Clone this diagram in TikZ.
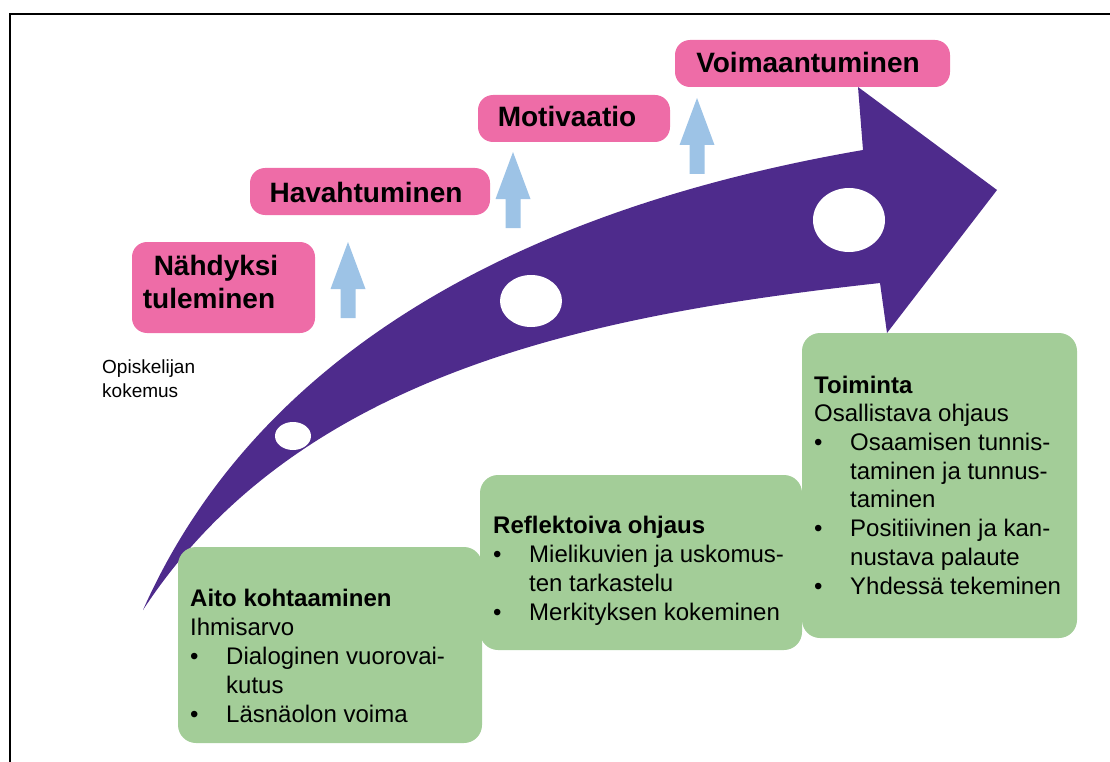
\documentclass[tikz,border=0pt]{standalone}
\usepackage{fontspec}
\setmainfont{Liberation Sans}
\definecolor{pinkc}{HTML}{EE6CA7}
\definecolor{greenc}{HTML}{A3CD98}
\definecolor{bluec}{HTML}{9DC3E6}
\definecolor{purpc}{HTML}{4E2B8C}
\newcommand\gbul{\makebox[36pt][l]{•}}
\newcommand\gind{\hspace*{36pt}}
\tikzset{
  pinkbox/.style={fill=pinkc, draw=none, rounded corners=15pt, inner sep=0pt},
  greenbox/.style={fill=greenc, draw=none, rounded corners=18pt, inner sep=0pt},
  ptext/.style={font=\fontsize{28}{33}\selectfont\bfseries, inner sep=0pt, anchor=base},
  gtext/.style={align=left, inner sep=0pt, anchor=north west},
  smalltext/.style={font=\fontsize{19}{24}\selectfont, inner sep=0pt, anchor=base west},
  upshape/.style={fill=bluec}
}
\begin{document}
\begin{tikzpicture}[x=1pt,y=-1pt]
\useasboundingbox (0,0) rectangle (1110,762);
% frame
\draw[line width=1.3pt] (10,762) -- (10,14) -- (1110,14);
% light blue up arrows
\foreach \ax/\ay in {348/242, 513/152, 697/98}{
  \fill[upshape, shift={(\ax,\ay)}] (0,0) -- (17.5,47) -- (7.5,47) -- (7.5,76) -- (-7.5,76) -- (-7.5,47) -- (-17.5,47) -- cycle;
}
% big purple arrow
\fill[purpc] (143,610) .. controls (263,340) and (543,205) .. (863,150)
  -- (858,87) -- (997,190) -- (887,333) -- (880,283)
  .. controls (600,314) and (300,370) .. (143,610) -- cycle;
\fill[white] (293,436) ellipse [x radius=18, y radius=14];
\fill[white] (531,301) ellipse [x radius=31, y radius=26];
\fill[white] (849,220) ellipse [x radius=36, y radius=32];
% pink boxes
\node[pinkbox, minimum width=183pt, minimum height=91pt] (p1) at (223.5,287.5) {};
\node[pinkbox, minimum width=240pt, minimum height=47pt] (p2) at (370,191.5) {};
\node[pinkbox, minimum width=192pt, minimum height=47pt] (p3) at (574,118.5) {};
\node[pinkbox, minimum width=275pt, minimum height=47pt] (p4) at (812.5,63.5) {};
\node[ptext] (t1a) at (216,275) {Nähdyksi};
\node[ptext] (t1b) at (209,308) {tuleminen};
\node[ptext] (t2) at (366,202) {Havahtuminen};
\node[ptext] (t3) at (567,127) {Motivaatio};
\node[ptext] (t4) at (808,73) {Voimaantuminen};
% side label
\node[smalltext] (op1) at (102,373) {Opiskelijan};
\node[smalltext] (op2) at (102,397) {kokemus};
% green boxes
\node[greenbox, minimum width=304pt, minimum height=196pt] (g1) at (330,645) {};
\node[greenbox, minimum width=322pt, minimum height=175pt] (g2) at (641,562.5) {};
\node[greenbox, minimum width=275pt, minimum height=305pt] (g3) at (939.5,485.5) {};
\node[gtext, font=\fontsize{24}{29}\selectfont] (gt1) at (190,585.7) {\strut\textbf{Aito kohtaaminen}\\Ihmisarvo\\\gbul Dialoginen vuorovai-\\\gind kutus\\\gbul Läsnäolon voima};
\node[gtext, font=\fontsize{24}{29}\selectfont] (gt2) at (493,512.7) {\strut\textbf{Reflektoiva ohjaus}\\\gbul Mielikuvien ja uskomus-\\\gind ten tarkastelu\\\gbul Merkityksen kokeminen};
\node[gtext, font=\fontsize{24}{28.7}\selectfont] (gt3) at (814,372.9) {\strut\textbf{Toiminta}\\Osallistava ohjaus\\\gbul Osaamisen tunnis-\\\gind taminen ja tunnus-\\\gind taminen\\\gbul Positiivinen ja kan-\\\gind nustava palaute\\\gbul Yhdessä tekeminen};
\end{tikzpicture}
\end{document}
